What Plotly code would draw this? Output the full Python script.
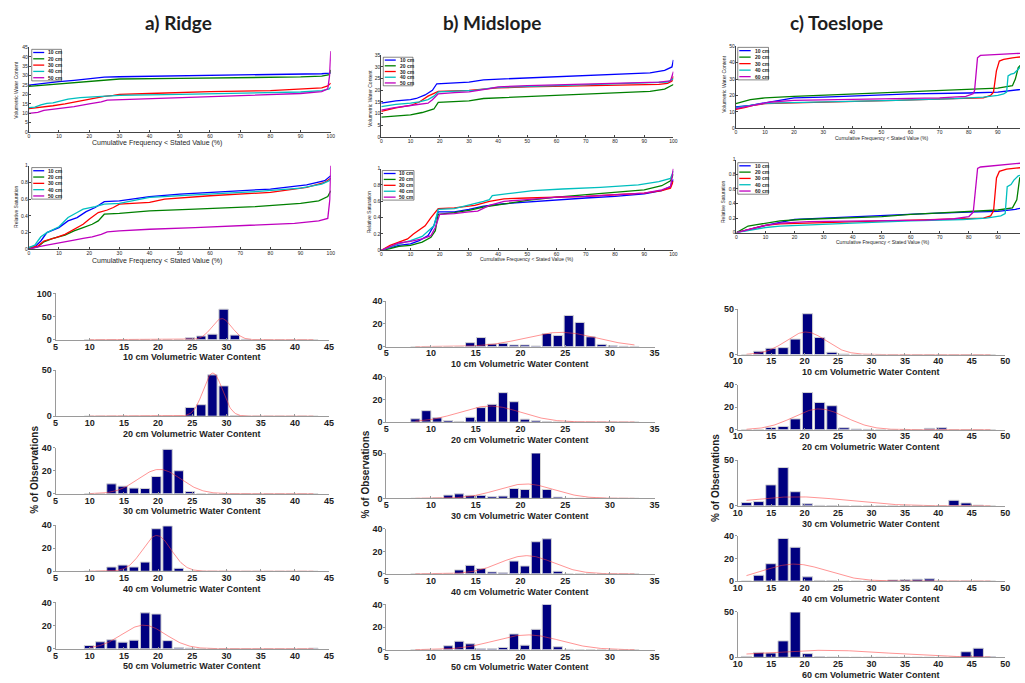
import numpy as np
import plotly.graph_objects as go

FIG_W, FIG_H = 1025, 683

# ---------------- cumulative frequency curves: (cumulative %, value) ----------------
depth_colors = ["#0000FF", "#008000", "#FF0000", "#00BFBF", "#BF00BF"]
ridge_depths = ["10 cm", "20 cm", "30 cm", "40 cm", "50 cm"]
mid_depths = ["10 cm", "20 cm", "30 cm", "40 cm", "50 cm"]
toe_depths = ["10 cm", "20 cm", "30 cm", "40 cm", "60 cm"]

# Ridge - volumetric water content
ridge_vwc_10 = [(0, 25.0), (5, 26), (10, 26.8), (15, 27.5), (20, 28.3), (25, 29.2), (30, 29.4), (40, 29.6),
                (60, 30), (80, 30.3), (90, 30.6), (97, 31), (99.5, 31.3), (100, 31.5)]
ridge_vwc_20 = [(0, 24.3), (5, 25), (10, 25.7), (15, 26.3), (20, 27), (24, 27.4), (26, 28), (30, 28.2),
                (50, 28.5), (70, 28.8), (90, 29.3), (97, 29.7), (99.5, 30.5), (100, 33)]
ridge_vwc_30 = [(0, 12.5), (3, 13), (8, 14), (12, 15), (15, 16), (20, 17.5), (25, 19), (28, 19.5), (30, 20),
                (40, 20.5), (50, 21), (60, 21.5), (80, 22), (90, 22.8), (97, 23.5), (99, 24.5), (100, 26)]
ridge_vwc_40 = [(0, 13), (2, 13.3), (4, 14.5), (6, 15.3), (8, 15.5), (10, 16.3), (13, 17.5), (17, 18.3),
                (20, 18.6), (25, 19.3), (30, 19.5), (50, 20), (70, 20.5), (90, 21.3), (97, 22), (99.5, 23),
                (100, 24)]
ridge_vwc_50 = [(0, 10), (3, 10.5), (5, 11.5), (8, 12), (12, 13), (15, 13.5), (20, 15), (24, 16), (26, 17),
                (35, 17.5), (50, 18.5), (75, 19.5), (90, 20.5), (97, 21.5), (99, 23), (99.6, 30), (100, 43)]

# Ridge - relative saturation
ridge_rs_10 = [(0, 0.02), (2, 0.03), (4, 0.1), (6, 0.2), (8, 0.23), (10, 0.26), (13, 0.34), (16, 0.38),
               (19, 0.45), (22, 0.5), (25, 0.57), (30, 0.58), (40, 0.63), (50, 0.66), (65, 0.69), (80, 0.72),
               (92, 0.77), (98, 0.82), (100, 0.88)]
ridge_rs_20 = [(0, 0.01), (3, 0.03), (5, 0.09), (8, 0.13), (12, 0.17), (15, 0.22), (18, 0.26), (21, 0.3),
               (23, 0.34), (25, 0.42), (30, 0.43), (40, 0.46), (55, 0.48), (75, 0.51), (90, 0.55), (96, 0.58),
               (99, 0.63), (100, 0.7)]
ridge_rs_30 = [(0, 0.02), (3, 0.04), (5, 0.1), (9, 0.14), (12, 0.18), (15, 0.24), (18, 0.3), (20, 0.36),
               (23, 0.44), (26, 0.47), (28, 0.5), (30, 0.54), (40, 0.56), (45, 0.6), (60, 0.64), (80, 0.68),
               (92, 0.74), (98, 0.8), (100, 0.85)]
ridge_rs_40 = [(0, 0.02), (2, 0.05), (4, 0.15), (6, 0.2), (10, 0.27), (13, 0.38), (16, 0.44), (18, 0.48),
               (22, 0.51), (25, 0.54), (30, 0.55), (40, 0.62), (55, 0.65), (75, 0.69), (90, 0.73), (97, 0.78),
               (99.5, 0.82), (100, 0.85)]
ridge_rs_50 = [(0, 0.0), (3, 0.03), (6, 0.05), (10, 0.08), (15, 0.11), (18, 0.13), (21, 0.15), (24, 0.18),
               (26, 0.21), (30, 0.22), (40, 0.24), (55, 0.26), (75, 0.29), (88, 0.31), (96, 0.34), (99, 0.37),
               (99.7, 0.6), (100, 1.0)]

# Midslope - volumetric water content
mid_vwc_10 = [(0, 14.5), (5, 15.5), (10, 16), (12, 16.5), (15, 18), (17.5, 20), (19, 22.8), (22, 23), (30, 23.5),
              (35, 24.5), (45, 25), (55, 25.5), (65, 26), (75, 26.5), (85, 27), (92, 27.5), (97, 28.5),
              (99.5, 30), (100, 33)]
mid_vwc_20 = [(0, 8.5), (5, 9), (10, 9.5), (14, 10.5), (17, 11.5), (18, 12), (19.5, 14.8), (25, 15), (30, 15.5),
              (35, 16.5), (45, 17), (55, 17.5), (65, 18), (75, 18.5), (85, 19), (92, 19.5), (97, 20.5),
              (100, 22.5)]
mid_vwc_30 = [(0, 11), (5, 12.5), (10, 13.5), (13, 15), (16, 17.5), (18, 18.5), (19.5, 19.5), (30, 20),
              (35, 20.5), (40, 21), (50, 21.5), (70, 21.8), (85, 22.2), (95, 22.5), (98, 23), (99.5, 24),
              (100, 26)]
mid_vwc_40 = [(0, 13), (5, 14), (10, 14.5), (13, 15), (16, 16), (18, 17.5), (19.5, 19.3), (25, 19.5), (32, 20),
              (38, 21), (45, 21.5), (60, 22), (75, 22.5), (90, 23), (98, 23.5), (100, 25)]
mid_vwc_50 = [(0, 11.5), (4, 12.5), (10, 13.5), (13, 14), (16, 14.5), (17.5, 16), (19.5, 18.5), (25, 19),
              (30, 19.3), (36, 20.5), (40, 21.5), (50, 22), (65, 22.5), (80, 23), (95, 23.5), (99, 24),
              (100, 28)]

# Midslope - relative saturation
mid_rs_10 = [(0, 0), (3, 0.03), (6, 0.06), (10, 0.08), (13, 0.12), (16, 0.18), (18, 0.3), (19.5, 0.47),
             (25, 0.47), (30, 0.5), (35, 0.54), (42, 0.57), (50, 0.59), (60, 0.62), (70, 0.64), (80, 0.66),
             (90, 0.69), (96, 0.73), (99, 0.78), (100, 0.87)]
mid_rs_20 = [(0, 0), (3, 0.02), (6, 0.05), (10, 0.06), (14, 0.1), (17, 0.16), (18.5, 0.24), (19.5, 0.44),
             (25, 0.46), (30, 0.49), (35, 0.53), (42, 0.57), (50, 0.61), (60, 0.65), (70, 0.68), (80, 0.71),
             (90, 0.74), (96, 0.79), (99, 0.85), (100, 0.93)]
mid_rs_30 = [(0, 0), (3, 0.06), (6, 0.1), (9, 0.14), (11, 0.2), (15, 0.3), (17, 0.4), (19.5, 0.51), (25, 0.52),
             (32, 0.55), (37, 0.6), (42, 0.63), (50, 0.64), (60, 0.65), (70, 0.66), (80, 0.68), (90, 0.7),
             (96, 0.73), (99, 0.76), (100, 0.85)]
mid_rs_40 = [(0, 0), (3, 0.04), (6, 0.08), (10, 0.12), (14, 0.17), (18, 0.3), (19.5, 0.5), (25, 0.51),
             (31, 0.56), (35, 0.6), (37, 0.62), (38, 0.67), (45, 0.7), (52, 0.73), (62, 0.75), (75, 0.77),
             (88, 0.8), (95, 0.84), (99, 0.88), (100, 0.97)]
mid_rs_50 = [(0, 0), (3, 0.05), (6, 0.09), (10, 0.11), (14, 0.14), (17, 0.18), (18.5, 0.28), (20, 0.44),
             (25, 0.45), (30, 0.47), (33, 0.48), (37, 0.55), (42, 0.6), (50, 0.62), (60, 0.65), (70, 0.66),
             (80, 0.68), (90, 0.7), (96, 0.74), (99, 0.78), (100, 1.0)]

# Toeslope - volumetric water content
toe_vwc_10 = [(0, 13), (5, 14), (10, 15.5), (15, 17), (20, 18.5), (30, 19), (45, 20), (60, 21), (80, 21.5),
              (90, 22), (97, 23.5), (100, 24)]
toe_vwc_20 = [(0, 15), (2, 16), (5, 17.5), (10, 18.5), (20, 19.5), (35, 20.5), (50, 21.5), (65, 22.5),
              (80, 23.5), (90, 24.5), (95, 26), (96, 30), (97, 37), (98, 39), (100, 40)]
toe_vwc_30 = [(0, 11.5), (3, 12.5), (6, 14), (10, 15), (20, 15.5), (35, 16), (55, 17), (75, 18), (85, 18.5),
              (87.5, 20), (88.5, 22), (89.5, 35), (90.5, 41), (92, 42), (95, 43), (100, 44)]
toe_vwc_40 = [(0, 12.5), (4, 13.5), (9, 15), (15, 15.5), (30, 16), (55, 17), (75, 18), (85, 19), (90, 20),
              (92, 21), (93, 22), (93.5, 32), (94.5, 33), (95.5, 33.5), (97, 36), (98, 38), (100, 39.5)]
toe_vwc_60 = [(0, 12), (3, 13), (7, 14.5), (12, 16), (20, 17), (35, 17.5), (55, 18), (70, 18.5), (79, 19.5),
              (81.5, 21), (82, 23), (83, 43), (84, 44.5), (88, 45), (93, 45.5), (100, 46)]

# Toeslope - relative saturation
toe_rs_10 = [(0, 0), (3, 0.03), (5, 0.06), (10, 0.1), (15, 0.14), (20, 0.18), (30, 0.2), (40, 0.22),
             (55, 0.24), (65, 0.26), (80, 0.28), (90, 0.29), (96, 0.32), (100, 0.35)]
toe_rs_20 = [(0, 0), (2, 0.05), (4, 0.09), (7, 0.11), (10, 0.13), (15, 0.16), (22, 0.18), (35, 0.2), (50, 0.22),
             (60, 0.25), (70, 0.27), (82, 0.29), (90, 0.31), (95, 0.34), (96.5, 0.45), (97.5, 0.75), (100, 0.8)]
toe_rs_30 = [(0, 0), (4, 0.04), (7, 0.07), (10, 0.1), (15, 0.12), (25, 0.13), (40, 0.15), (60, 0.17),
             (75, 0.18), (85, 0.2), (87.5, 0.23), (88.5, 0.3), (89.5, 0.75), (90.5, 0.84), (93, 0.87), (100, 0.9)]
toe_rs_40 = [(0, 0), (4, 0.03), (7, 0.05), (10, 0.07), (15, 0.09), (25, 0.11), (40, 0.13), (60, 0.16),
             (78, 0.18), (86, 0.2), (91, 0.23), (92.5, 0.26), (93.2, 0.63), (94.5, 0.66), (95.5, 0.72),
             (97, 0.78), (100, 0.8)]
toe_rs_60 = [(0, 0), (3, 0.03), (6, 0.06), (10, 0.1), (15, 0.13), (25, 0.15), (45, 0.16), (65, 0.17),
             (75, 0.19), (80, 0.22), (81.5, 0.28), (83, 0.88), (84, 0.9), (90, 0.92), (95, 0.94), (100, 0.96)]

# ---------------- histograms: bin centres and % of observations ----------------
ridge_bins = [9.9, 11.54, 13.18, 14.82, 16.46, 18.1, 19.74, 21.38, 23.02, 24.66, 26.3, 27.94, 29.58,
              31.22, 32.86, 34.5, 36.14, 37.78, 39.42, 41.06, 42.7]
ridge_pct_10 = [0, 0, 0, 0, 0, 0, 0, 0, 0, 4, 8, 12, 66, 10, 1, 0, 0, 0, 0, 0, 0]
ridge_pct_20 = [0, 0, 0, 0, 0, 0, 0, 0, 0, 9.5, 12.5, 45, 33, 0.5, 0, 0, 0, 0, 0, 0, 0]
ridge_pct_30 = [0, 0, 8.6, 6.6, 4.9, 4.6, 15, 38.6, 20, 2, 0, 0, 0, 0, 0, 0, 0, 0, 0, 0, 0]
ridge_pct_40 = [0, 0, 3.7, 5.4, 3.7, 8, 37, 39.4, 2.6, 0, 0, 0, 0, 0, 0, 0, 0, 0, 0, 0, 0]
ridge_pct_50 = [2.8, 6, 7.7, 5.7, 7.4, 31, 30, 7, 1, 0.5, 0, 0, 0, 0, 0, 0, 0, 0, 0, 0, 0.5]
ridge_fit_mu = [29.3, 28.0, 20.2, 19.8, 17.9]
ridge_fit_sd = [1.45, 1.4, 3.1, 2.1, 3.2]

mid_bins = [8.25, 9.48, 10.7, 11.93, 13.15, 14.38, 15.6, 16.83, 18.05, 19.28, 20.5, 21.73, 22.95, 24.18,
            25.4, 26.63, 27.85, 29.08, 30.3, 31.53, 32.75]
mid_pct_10 = [0, 0, 0, 0, 0, 3.5, 8, 2.3, 2.9, 1.5, 1.5, 0.6, 11.6, 9.9, 27.5, 21.4, 8.7, 2, 0.9, 0.3, 0.2]
mid_pct_20 = [2.9, 10.1, 3.8, 1.4, 0.6, 4.3, 12.8, 15.7, 26, 18, 2.6, 1.2, 0.3, 0, 0, 0, 0, 0, 0, 0, 0]
mid_pct_30 = [0, 0, 0.5, 3.6, 5, 3.3, 3.3, 1.8, 2.5, 10.9, 9.8, 50, 9.8, 1.4, 0, 0, 0, 0, 0, 0, 0]
mid_pct_40 = [0, 0, 0, 0, 3.5, 7.6, 4.7, 1.7, 0.9, 11.4, 7, 28.6, 31.2, 2.3, 0, 0, 0, 0, 0, 0, 0]
mid_pct_50 = [0, 0, 0, 3.5, 7.5, 5.2, 0.9, 0.9, 2, 13.9, 4, 18, 40, 2.6, 0.3, 0, 0, 0, 0, 0, 0]
mid_fit_mu = [24.5, 16.6, 20.6, 20.7, 20.8]
mid_fit_sd = [4.0, 3.45, 3.15, 3.0, 3.7]

toe_bins = [11.3, 13.13, 14.95, 16.78, 18.6, 20.43, 22.25, 24.08, 25.9, 27.73, 29.55, 31.38, 33.2, 35.03,
            36.85, 38.68, 40.5, 42.33, 44.15, 45.98, 47.8]
toe_pct_10 = [0, 3.6, 6.9, 7.6, 17, 45, 18.8, 2.5, 0.5, 0, 0, 0, 0, 0, 0, 0, 0, 0, 0, 0, 0]
toe_pct_20 = [0, 0, 2, 2.9, 9.6, 33, 24.2, 21.3, 1.7, 0.6, 0.3, 0, 0, 0, 0, 1.2, 1.7, 0, 0, 0, 0]
toe_pct_30 = [3.6, 4.7, 23, 42, 15.5, 2.2, 0.5, 0.3, 0, 0, 0, 0, 0, 0, 0, 0, 0, 6.1, 3.2, 0.8, 0]
toe_pct_40 = [0, 5.2, 15.4, 37.7, 29.9, 3.8, 0.6, 0.4, 0, 0, 0, 0, 1.1, 1.2, 1.7, 2, 0, 0, 0, 0, 0]
toe_pct_60 = [1, 5.4, 4.7, 18, 49.6, 4, 0.5, 0.3, 0, 0, 0, 0, 0, 0, 0, 0, 0, 0, 6.1, 10, 0.5]
toe_fit_mu = [20.2, 22.2, 18.8, 18.5, 23.0]
toe_fit_sd = [3.0, 3.9, 7.5, 4.8, 9.5]

# ---------------- figure assembly ----------------
fig = go.Figure()
axes_layout = {}
annotations = []
shapes = []
_axis_count = [0]

TEXT = "#1e1e1e"
SANS = "Liberation Sans"


def px_x(p):
    return p / FIG_W


def px_y(p):
    return 1 - p / FIG_H


def new_axes(x0, x1, y0, y1, xkw, ykw):
    _axis_count[0] += 1
    n = _axis_count[0]
    sfx = "" if n == 1 else str(n)
    axes_layout["xaxis" + sfx] = dict(domain=[px_x(x0), px_x(x1)], anchor="y" + sfx, **xkw)
    axes_layout["yaxis" + sfx] = dict(domain=[px_y(y1), px_y(y0)], anchor="x" + sfx, **ykw)
    return "x" + sfx, "y" + sfx


def label(text, x, y, size, bold=False, angle=0, family=SANS):
    annotations.append(dict(
        text=text, x=px_x(x), y=px_y(y), xref="paper", yref="paper", showarrow=False,
        xanchor="center", yanchor="middle", textangle=angle,
        font=dict(family=family, size=size, color=TEXT, weight="bold" if bold else "normal")))


def legend_box(left, top, width, height, names):
    shapes.append(dict(type="rect", xref="paper", yref="paper",
                       x0=px_x(left), x1=px_x(left + width), y0=px_y(top + height), y1=px_y(top),
                       line=dict(color="#333333", width=0.6), fillcolor="white", layer="above"))
    step = height / len(names)
    for i, (nm, col) in enumerate(zip(names, depth_colors)):
        yy = top + step * (i + 0.5)
        shapes.append(dict(type="line", xref="paper", yref="paper",
                           x0=px_x(left + 1.5), x1=px_x(left + width * 0.42), y0=px_y(yy), y1=px_y(yy),
                           line=dict(color=col, width=1.3), layer="above"))
        annotations.append(dict(text=nm, x=px_x(left + width * 0.48), y=px_y(yy), xref="paper", yref="paper",
                                showarrow=False, xanchor="left", yanchor="middle",
                                font=dict(family=SANS, size=5, color=TEXT, weight="bold")))


def cdf_panel(box, xmax, ymax, ydtick, series, names, leg, ylab, ylab_pos, xlab_pos=None, xlab_size=5):
    x0, x1, y0, y1 = box
    tick_font = dict(family=SANS, size=5, color=TEXT)
    xkw = dict(range=[0, xmax], tickvals=list(range(0, 101, 10)), showgrid=False, zeroline=False,
               showline=True, linecolor="#444444", linewidth=0.8, ticks="inside", ticklen=2,
               tickcolor="#444444", tickfont=tick_font, ticklabelstandoff=-1)
    ykw = dict(range=[0, ymax], dtick=ydtick, tick0=0, showgrid=False, zeroline=False,
               showline=True, linecolor="#444444", linewidth=0.8, ticks="inside", ticklen=2,
               tickcolor="#444444", tickfont=tick_font, ticklabelstandoff=-1)
    xa, ya = new_axes(x0, x1, y0, y1, xkw, ykw)
    for pts, col in zip(series, depth_colors):
        fig.add_trace(go.Scatter(x=[p[0] for p in pts], y=[p[1] for p in pts], mode="lines",
                                 line=dict(color=col, width=1.3), xaxis=xa, yaxis=ya,
                                 showlegend=False, hoverinfo="skip"))
    legend_box(*leg, names)
    label(ylab, ylab_pos[0], ylab_pos[1], 5, angle=-90)
    if xlab_pos is not None:
        label("Cumulative Frequency &lt; Stated Value (%)", xlab_pos[0], xlab_pos[1], xlab_size)


def hist_panel(box, xr, xtick, ymax, ytickvals, bins, pct, mu, sd, xlab):
    x0, x1, y0, y1 = box
    tick_font = dict(family=SANS, size=9, color=TEXT, weight="bold")
    xkw = dict(range=list(xr), tickvals=list(range(xr[0], xr[1] + 1, xtick)), showgrid=False, zeroline=False,
               showline=True, linecolor="#9a9a9a", linewidth=1, ticks="inside", ticklen=2,
               tickcolor="#9a9a9a", tickfont=tick_font, ticklabelstandoff=-2)
    ykw = dict(range=[0, ymax], tickvals=ytickvals, showgrid=False, zeroline=False,
               showline=True, linecolor="#9a9a9a", linewidth=1, ticks="outside", ticklen=2,
               tickcolor="#9a9a9a", tickfont=tick_font, ticklabelstandoff=-1)
    xa, ya = new_axes(x0, x1, y0, y1, xkw, ykw)
    bw = bins[1] - bins[0]
    fig.add_trace(go.Bar(x=bins, y=pct, width=bw * 0.84, xaxis=xa, yaxis=ya,
                         marker=dict(color="#000080", line=dict(color="#d4d4d4", width=1)),
                         showlegend=False, hoverinfo="skip"))
    # fitted normal density, scaled to the histogram's area
    xs = np.linspace(bins[0], bins[-1], 240)
    area = sum(pct) * bw
    ys = area / (sd * np.sqrt(2 * np.pi)) * np.exp(-0.5 * ((xs - mu) / sd) ** 2)
    fig.add_trace(go.Scatter(x=xs, y=ys, mode="lines", line=dict(color="rgba(255,60,60,0.55)", width=1),
                             xaxis=xa, yaxis=ya, showlegend=False, hoverinfo="skip"))
    label(xlab, (x0 + x1) / 2, y1 + 18, 9, bold=True)


# --- top row: cumulative frequency plots ---
cdf_panel((24, 329, 43, 129), 100, 45, 5,
          [ridge_vwc_10, ridge_vwc_20, ridge_vwc_30, ridge_vwc_40, ridge_vwc_50], ridge_depths,
          (27, 45, 30, 32), "Volumetric Water Content", (11, 86), (153, 140.5), 7)
cdf_panel((24, 329, 163, 248), 100, 1, 0.2,
          [ridge_rs_10, ridge_rs_20, ridge_rs_30, ridge_rs_40, ridge_rs_50], ridge_depths,
          (27, 165, 30, 32), "Relative Saturation", (11, 205), (153, 260), 7)
cdf_panel((380, 675, 51, 134), 100, 35, 5,
          [mid_vwc_10, mid_vwc_20, mid_vwc_30, mid_vwc_40, mid_vwc_50], mid_depths,
          (382, 53, 30, 29), "Volumetric Water Content", (368, 95))
cdf_panel((380, 675, 166, 249), 100, 1, 0.2,
          [mid_rs_10, mid_rs_20, mid_rs_30, mid_rs_40, mid_rs_50], mid_depths,
          (381, 168, 32, 30), "Relative Saturation", (368, 210), (527, 258), 5)
cdf_panel((738, 1025, 42, 125), 97.6, 50, 10,
          [toe_vwc_10, toe_vwc_20, toe_vwc_30, toe_vwc_40, toe_vwc_60], toe_depths,
          (740, 43, 31, 33), "Volumetric Water Content", (726, 80), (885, 135), 5)
cdf_panel((738.7, 1025, 157, 231), 97.6, 1, 0.2,
          [toe_rs_10, toe_rs_20, toe_rs_30, toe_rs_40, toe_rs_60], toe_depths,
          (740, 160, 31, 32), "Relative Saturation", (725, 200), (886, 241), 5)

# --- histograms ---
ridge_rows = [(292.7, 339.7, 100, [0, 50, 100]), (370.7, 417.3, 50, [0, 50]), (449.3, 496, 40, [0, 20, 40]),
              (528, 574.7, 40, [0, 20, 40]), (606.3, 653.3, 40, [0, 20, 40])]
ridge_pcts = [ridge_pct_10, ridge_pct_20, ridge_pct_30, ridge_pct_40, ridge_pct_50]
for i, (ya0, ya1, ymax, yt) in enumerate(ridge_rows):
    hist_panel((51, 327.3, ya0, ya1), (5, 45), 5, ymax, yt, ridge_bins, ridge_pcts[i],
               ridge_fit_mu[i], ridge_fit_sd[i], f"{ridge_depths[i]} Volumetric Water Content")

mid_rows = [(300.7, 346.7, 40, [0, 20, 40]), (377.3, 423.3, 40, [0, 20, 40]), (454.7, 500.7, 50, [0, 50]),
            (531.7, 577.3, 40, [0, 20, 40]), (608.3, 654.3, 40, [0, 20, 40])]
mid_pcts = [mid_pct_10, mid_pct_20, mid_pct_30, mid_pct_40, mid_pct_50]
for i, (ya0, ya1, ymax, yt) in enumerate(mid_rows):
    hist_panel((385, 656, ya0, ya1), (5, 35), 5, ymax, yt, mid_bins, mid_pcts[i],
               mid_fit_mu[i], mid_fit_sd[i], f"{mid_depths[i]} Volumetric Water Content")

toe_rows = [(308.7, 354.7, 50, [0, 50]), (385.3, 431, 40, [0, 20, 40]), (462, 508.3, 50, [0, 50]),
            (538.7, 584.7, 40, [0, 20, 40]), (615.7, 662, 50, [0, 50])]
toe_pcts = [toe_pct_10, toe_pct_20, toe_pct_30, toe_pct_40, toe_pct_60]
for i, (ya0, ya1, ymax, yt) in enumerate(toe_rows):
    hist_panel((740, 1010, ya0, ya1), (10, 50), 5, ymax, yt, toe_bins, toe_pcts[i],
               toe_fit_mu[i], toe_fit_sd[i], f"{toe_depths[i]} Volumetric Water Content")

label("% of Observations", 29, 472, 10, bold=True, angle=-90)
label("% of Observations", 364, 476, 10, bold=True, angle=-90)
label("% of Observations", 718, 480, 10, bold=True, angle=-90)

# --- column titles ---
label("a) Ridge", 175, 18, 19, bold=True, family="Lato")
label("b) Midslope", 492, 18, 19, bold=True, family="Lato")
label("c) Toeslope", 840, 18, 19, bold=True, family="Lato")

fig.update_layout(
    width=FIG_W, height=FIG_H, margin=dict(l=0, r=0, t=0, b=0),
    paper_bgcolor="white", plot_bgcolor="rgba(0,0,0,0)",
    showlegend=False, barmode="overlay",
    annotations=annotations, shapes=shapes, **axes_layout)

fig.write_html("out.html")
